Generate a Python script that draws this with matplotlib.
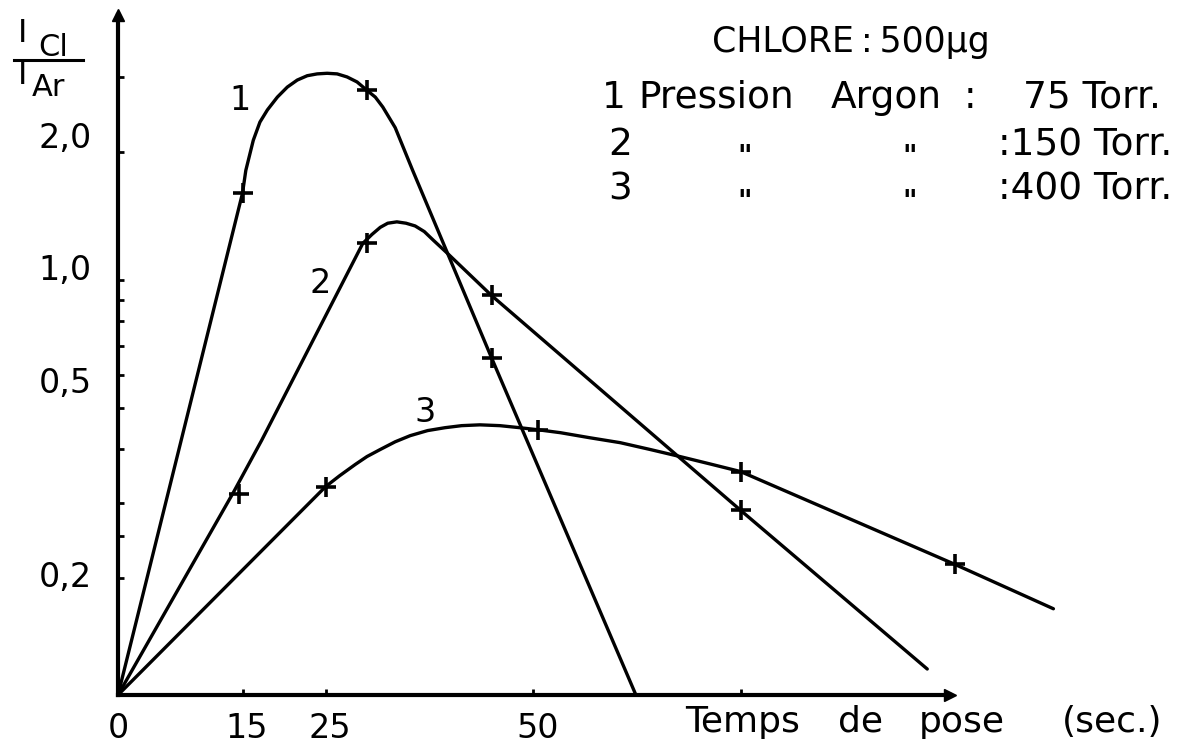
import matplotlib.pyplot as plt
import numpy as np

plt.rcParams['font.family'] = ['DejaVu Sans']

# curves: time (s) and I_Cl / I_Ar
c1_t = [0, 15, 15.4, 16.3, 17.1, 18.0, 19.2, 20.4, 21.6, 22.8, 24.0, 25.2, 26.4,
        27.6, 28.8, 30, 31.0, 31.9, 33.4, 35.5, 45, 62.4]
c1_y = [0.106, 1.6, 1.81, 2.13, 2.35, 2.51, 2.69, 2.84, 2.95, 3.02, 3.05, 3.06, 3.05,
        3.00, 2.92, 2.79, 2.69, 2.55, 2.28, 1.81, 0.657, 0.106]
c2_t = [0, 13.9, 17.3, 29.5, 30.6, 31.6, 32.5, 33.6, 34.7, 35.8, 36.9, 38.0, 39.6,
        45, 75, 97.5]
c2_y = [0.106, 0.317, 0.42, 1.22, 1.28, 1.33, 1.36, 1.37, 1.36, 1.34, 1.30, 1.24, 1.16,
        0.92, 0.288, 0.122]
c3_t = [0, 25, 26.7, 28.6, 30.0, 31.6, 33.4, 35.2, 37.3, 39.4, 41.4, 43.6, 46.0, 48.4,
        50.6, 53.3, 56.9, 60.5, 64.1, 67.7, 71.3, 75, 100.8, 112.7]
c3_y = [0.106, 0.327, 0.347, 0.369, 0.385, 0.40, 0.417, 0.431, 0.443, 0.45, 0.455, 0.457,
        0.455, 0.45, 0.445, 0.438, 0.426, 0.415, 0.40, 0.385, 0.370, 0.355, 0.215, 0.169]

# measured points (crosses)
m1_t = [15, 30, 45]
m1_y = [1.6, 2.79, 0.657]
m2_t = [14.6, 30, 45, 75]
m2_y = [0.315, 1.22, 0.92, 0.288]
m3_t = [25, 50.6, 75, 100.8]
m3_y = [0.327, 0.445, 0.355, 0.215]

xticks = [15, 25, 50, 75]
xlabels = ['15', '25', '50', '']
yticks = [0.2, 0.5, 1.0, 2.0]
ylabels = ['0,2', '0,5', '1,0', '2,0']
yminor = [0.25, 0.3, 0.4, 0.6, 0.7, 0.8, 0.9, 3.0]

W, H = 1186, 745
fig = plt.figure(figsize=(W / 100, H / 100), dpi=100)

def fx(x):
    return x / W

def fy(y):
    return 1 - y / H

# axes box: origin at (118, 695) px, x arrow tip at 950 px, y arrow tip at 15 px
ax = fig.add_axes([fx(118), fy(695), (950 - 118) / W, (695 - 15) / H])
ax.set_yscale('log')
ax.set_xlim(0, (950 - 118) / 8.3)
ax.set_ylim(0.106, 0.2 * 10 ** ((578 - 15) / 426))

for s in ['top', 'right']:
    ax.spines[s].set_visible(False)
for s in ['left', 'bottom']:
    ax.spines[s].set_linewidth(3)
ax.plot(1, 0, '>k', ms=9, transform=ax.transAxes, clip_on=False)
ax.plot(0, 1, '^k', ms=9, transform=ax.transAxes, clip_on=False)

ax.set_xticks(xticks)
ax.set_xticklabels([])
ax.set_yticks(yticks)
ax.set_yticks(yminor, minor=True)
ax.set_yticklabels([])
ax.set_yticklabels([], minor=True)
ax.tick_params(which='both', direction='in', length=4, width=2)

for t, lab in zip([0] + xticks, ['0'] + xlabels):
    ax.annotate(lab, xy=(t, 0), xycoords=('data', 'axes fraction'),
                xytext=(3 if t else 0, -24), textcoords='offset points',
                ha='center', va='center', fontsize=24)
for v, lab, dy in zip(yticks, ylabels, [0, 18, 7, 10]):
    ax.annotate(lab, xy=(0, v), xycoords=('axes fraction', 'data'),
                xytext=(-19, dy), textcoords='offset points',
                ha='right', va='center', fontsize=24)

kw = dict(color='black', lw=2.4, clip_on=False, solid_capstyle='round',
          solid_joinstyle='round')
ax.plot(c1_t, c1_y, **kw)
ax.plot(c2_t, c2_y, **kw)
ax.plot(c3_t, c3_y, **kw)
mk = dict(ls='none', marker='+', ms=14, mew=2.6, color='black', clip_on=False)
ax.plot(m1_t, m1_y, **mk)
ax.plot(m2_t, m2_y, **mk)
ax.plot(m3_t, m3_y, **mk)

# curve numbers
fig.text(fx(240), fy(100), '1', fontsize=24, ha='center', va='center')
fig.text(fx(320), fy(283), '2', fontsize=24, ha='center', va='center')
fig.text(fx(425), fy(413), '3', fontsize=24, ha='center', va='center')

# x axis title, word by word to match the wide lettering
for x, w in [(743, 'Temps'), (861, 'de'), (962, 'pose'), (1112, '(sec.)')]:
    fig.text(fx(x), fy(722), w, fontsize=26, ha='center', va='center')

# y axis title I_Cl / I_Ar
fig.text(fx(18), fy(33), 'I', fontsize=23, ha='left', va='center')
fig.text(fx(38), fy(47), 'Cl', fontsize=22, ha='left', va='center')
fig.add_artist(plt.Line2D([fx(14), fx(83)], [fy(60), fy(60)], color='black', lw=2.2))
fig.text(fx(18), fy(76), 'I', fontsize=23, ha='left', va='center')
fig.text(fx(32), fy(88), 'Ar', fontsize=22, ha='left', va='center')

# legend block
fig.text(fx(851), fy(42), 'CHLORE\u2009:\u2009500µg', fontsize=25, ha='center', va='center')
for x, w in [(614, '1'), (716, 'Pression'), (886, 'Argon'), (970, ':'), (1092, '75 Torr.')]:
    fig.text(fx(x), fy(98), w, fontsize=27, ha='center', va='center')
for y, n, val in [(145, '2', ':150 Torr.'), (190, '3', ':400 Torr.')]:
    fig.text(fx(620), fy(y), n, fontsize=27, ha='center', va='center')
    fig.text(fx(745), fy(y + 12), '"', fontsize=20, fontweight='bold', ha='center', va='center')
    fig.text(fx(910), fy(y + 12), '"', fontsize=20, fontweight='bold', ha='center', va='center')
    fig.text(fx(1172), fy(y), val, fontsize=27, ha='right', va='center')

fig.savefig('out.png', dpi=100)
